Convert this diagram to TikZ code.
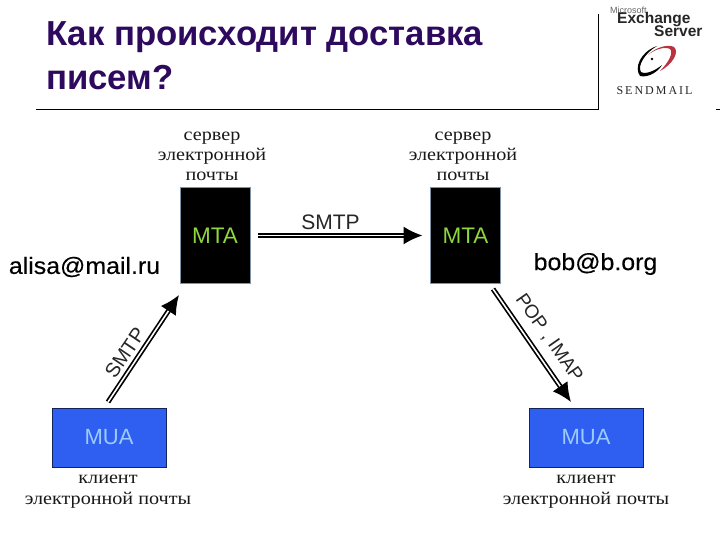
\documentclass[tikz,border=0pt]{standalone}
\usepackage{fontspec}
\setmainfont{Liberation Sans}
\newfontfamily\serifcyr[FakeStretch=1.12]{Liberation Serif}
\newfontfamily\serifplain{Liberation Serif}
\newfontfamily\widesans[FakeStretch=1.06,FakeBold=0.3]{Liberation Sans}
\usetikzlibrary{arrows.meta}
\definecolor{titlecol}{HTML}{2E0A5E}
\definecolor{muablue}{HTML}{2F5FF0}
\definecolor{muatext}{HTML}{9CCBFF}
\definecolor{mtatext}{HTML}{8FD63C}
\definecolor{mtaedge}{HTML}{7F93A8}
\definecolor{muaedge}{HTML}{14235E}
\definecolor{swirlred}{HTML}{B8323F}
\tikzset{
  mtabox/.style={draw=mtaedge,fill=black,line width=1pt,minimum width=70pt,minimum height=95pt,inner sep=0pt,text=mtatext,font=\fontsize{22.5}{22}\selectfont},
  muabox/.style={draw=muaedge,fill=muablue,line width=1pt,minimum width=114pt,minimum height=59pt,inner sep=0pt,text=muatext,font=\fontsize{22}{22}\selectfont},
  caption/.style={align=center,inner sep=0pt,text=black!90,font=\serifcyr\fontsize{18}{20}\selectfont},
  captionb/.style={align=center,inner sep=0pt,text=black!90,font=\serifcyr\fontsize{18}{21}\selectfont},
  dbl/.style={double,double distance=1.6pt,line width=1.7pt,-{Latex[length=19pt,width=18pt]}},
  proto/.style={inner sep=0pt,text=black!85,font=\fontsize{21}{21}\selectfont},
  addr/.style={inner sep=0pt,text=black,font=\widesans\fontsize{23.5}{24}\selectfont},
  rule/.style={line width=1pt,black},
  titletext/.style={anchor=base west,inner sep=0pt,text=titlecol,font=\bfseries\fontsize{34.7}{34}\selectfont}
}
\begin{document}
\begin{tikzpicture}[x=1pt,y=-1pt]
\useasboundingbox (0,0) rectangle (720,540);
\fill[white] (0,0) rectangle (720,540);
% title
\node[titletext] (t1) at (46,46) {Как происходит доставка};
\node[titletext] (t2) at (46,90) {писем?};
% rules
\coordinate (r0) at (36,110);
\coordinate (r1) at (598,110);
\coordinate (r2) at (598,14);
\coordinate (r3) at (716,110);
\coordinate (r4) at (720,110);
\draw[rule] (r0) -- (r1) -- (r2);
\draw[rule] (r3) -- (r4);
% logos
\node[anchor=west,inner sep=0pt,text=black!60,font=\fontsize{9}{9}\selectfont] (ms) at (610,10) {Microsoft};
\node[anchor=west,inner sep=0pt,text=black!85,font=\bfseries\fontsize{15.5}{15}\selectfont] (ex) at (617,20) {Exchange};
\node[anchor=west,inner sep=0pt,text=black!85,font=\bfseries\fontsize{15.5}{15}\selectfont] (sv) at (654,31) {Server};
\fill[black] (657,46) .. controls (640,52) and (634,68) .. (640,76) .. controls (648,78) and (658,72) .. (662,65) .. controls (656,70) and (646,75) .. (641,72) .. controls (637,66) and (645,53) .. (657,46) -- cycle;
\fill[swirlred] (648,55) .. controls (656,47) and (668,44) .. (674,47) .. controls (680,52) and (672,65) .. (660,71) .. controls (668,63) and (674,53) .. (670,49) .. controls (664,46) and (654,50) .. (648,55) -- cycle;
\fill[black] (652,59) circle (1.3pt);
\node[inner sep=0pt,text=black!85,font=\serifplain\fontsize{12}{12}\selectfont] (sm) at (654.5,91) {S\,E\,N\,D\,M\,A\,I\,L};
% boxes
\node[mtabox] (mta1) at (215,235.5) {MTA};
\node[mtabox] (mta2) at (465.5,235.5) {MTA};
\node[muabox] (mua1) at (109,437.5) {\raisebox{-1pt}{MUA}};
\node[muabox] (mua2) at (586,437.5) {\raisebox{-1pt}{MUA}};
% captions
\node[caption] (c1) at (212,156) {сервер\\электронной\\почты};
\node[caption] (c2) at (463,156) {сервер\\электронной\\почты};
\node[captionb] (c3) at (108,492) {клиент\\электронной почты};
\node[captionb] (c4) at (586,492) {клиент\\электронной почты};
% addresses
\node[addr] (a1) at (84.5,267) {alisa@mail.ru};
\node[addr] (a2) at (595.5,264) {bob@b.org};
% connectors
\coordinate (p1) at (108,402);
\coordinate (p2) at (179,295);
\coordinate (q1) at (493,289);
\coordinate (q2) at (571,402);
\draw[dbl,shorten <=7pt,shorten >=7.5pt] (mta1.east) -- (mta2.west);
\draw[dbl] (p1) -- (p2);
\draw[dbl] (q1) -- (q2);
% protocol labels
\node[proto] (s1) at (330.5,222) {SMTP};
\node[proto,font=\fontsize{20}{20}\selectfont,rotate=56] (s2) at (125,353) {SMTP};
\node[proto,font=\fontsize{19}{20}\selectfont,rotate=-55] (s3) at (549,338) {POP , IMAP};
\end{tikzpicture}
\end{document}
